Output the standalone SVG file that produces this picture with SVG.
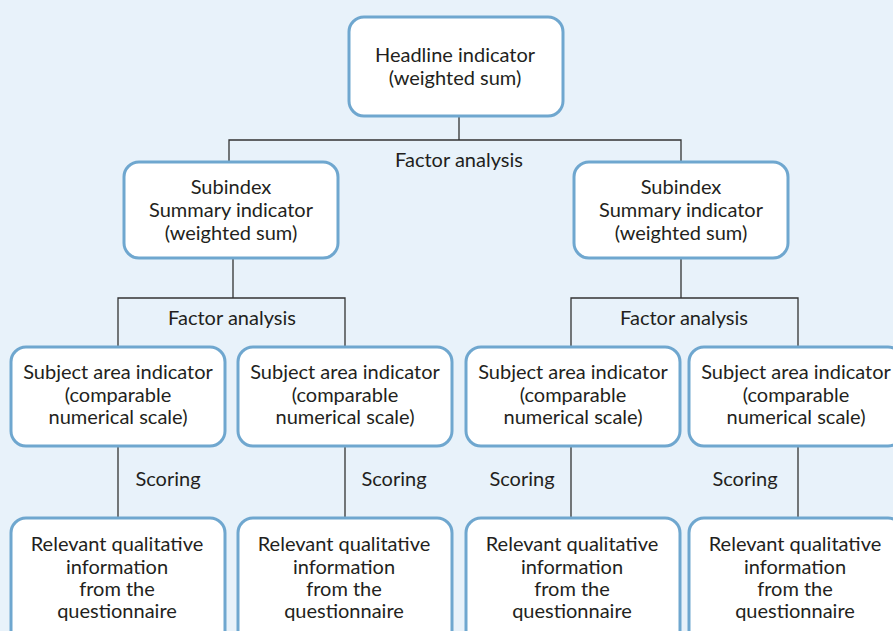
<svg xmlns="http://www.w3.org/2000/svg" width="893" height="631" viewBox="0 0 893 631">
<style>
.bg{fill:#e8f2fa}
.box{fill:#ffffff;stroke:#6fa7cf;stroke-width:3}
.t{font-family:Lato,"Open Sans","Liberation Sans",sans-serif;font-size:20px;fill:#231f20;text-anchor:middle}
.c{fill:none;stroke:#333333;stroke-width:1.3}
</style>
<rect class="bg" x="0" y="0" width="893" height="631"/>
<g id="connectors">
<path class="c" d="M459 116V140M229 162V140H681V162"/>
<path class="c" d="M233 258V298M118 347V298H345V347"/>
<path class="c" d="M681 258V298M571 347V298H798V347"/>
<path class="c" d="M118 446V518M345 446V518M571 446V518M798 446V518"/>
<text class="t" x="459" y="167">Factor analysis</text>
<text class="t" x="232" y="325">Factor analysis</text>
<text class="t" x="684" y="325">Factor analysis</text>
<text class="t" x="168" y="486">Scoring</text>
<text class="t" x="394" y="486">Scoring</text>
<text class="t" x="522" y="486">Scoring</text>
<text class="t" x="745" y="486">Scoring</text>
</g>
<g id="headline">
<rect class="box" x="349" y="17" width="214" height="99" rx="15"/>
<text class="t" x="455" y="62">Headline indicator</text>
<text class="t" x="455" y="85">(weighted sum)</text>
</g>
<g id="subindex-left">
<rect class="box" x="124" y="162" width="214" height="96" rx="15"/>
<text class="t" x="231" y="194">Subindex</text>
<text class="t" x="231" y="217">Summary indicator</text>
<text class="t" x="231" y="240">(weighted sum)</text>
</g>
<g id="subindex-right">
<rect class="box" x="574" y="162" width="214" height="96" rx="15"/>
<text class="t" x="681" y="194">Subindex</text>
<text class="t" x="681" y="217">Summary indicator</text>
<text class="t" x="681" y="240">(weighted sum)</text>
</g>
<g id="subject-1">
<rect class="box" x="11" y="347" width="214" height="99" rx="15"/>
<text class="t" x="118" y="379">Subject area indicator</text>
<text class="t" x="118" y="402">(comparable</text>
<text class="t" x="118" y="424">numerical scale)</text>
</g>
<g id="subject-2">
<rect class="box" x="238" y="347" width="214" height="99" rx="15"/>
<text class="t" x="345" y="379">Subject area indicator</text>
<text class="t" x="345" y="402">(comparable</text>
<text class="t" x="345" y="424">numerical scale)</text>
</g>
<g id="subject-3">
<rect class="box" x="466" y="347" width="214" height="99" rx="15"/>
<text class="t" x="573" y="379">Subject area indicator</text>
<text class="t" x="573" y="402">(comparable</text>
<text class="t" x="573" y="424">numerical scale)</text>
</g>
<g id="subject-4">
<rect class="box" x="689" y="347" width="214" height="99" rx="15"/>
<text class="t" x="796" y="379">Subject area indicator</text>
<text class="t" x="796" y="402">(comparable</text>
<text class="t" x="796" y="424">numerical scale)</text>
</g>
<g id="info-1">
<rect class="box" x="11" y="518" width="214" height="130" rx="15"/>
<text class="t" x="117" y="551">Relevant qualitative</text>
<text class="t" x="117" y="574">information</text>
<text class="t" x="117" y="596">from the</text>
<text class="t" x="117" y="618">questionnaire</text>
</g>
<g id="info-2">
<rect class="box" x="238" y="518" width="214" height="130" rx="15"/>
<text class="t" x="344" y="551">Relevant qualitative</text>
<text class="t" x="344" y="574">information</text>
<text class="t" x="344" y="596">from the</text>
<text class="t" x="344" y="618">questionnaire</text>
</g>
<g id="info-3">
<rect class="box" x="466" y="518" width="214" height="130" rx="15"/>
<text class="t" x="572" y="551">Relevant qualitative</text>
<text class="t" x="572" y="574">information</text>
<text class="t" x="572" y="596">from the</text>
<text class="t" x="572" y="618">questionnaire</text>
</g>
<g id="info-4">
<rect class="box" x="689" y="518" width="214" height="130" rx="15"/>
<text class="t" x="795" y="551">Relevant qualitative</text>
<text class="t" x="795" y="574">information</text>
<text class="t" x="795" y="596">from the</text>
<text class="t" x="795" y="618">questionnaire</text>
</g>
</svg>
